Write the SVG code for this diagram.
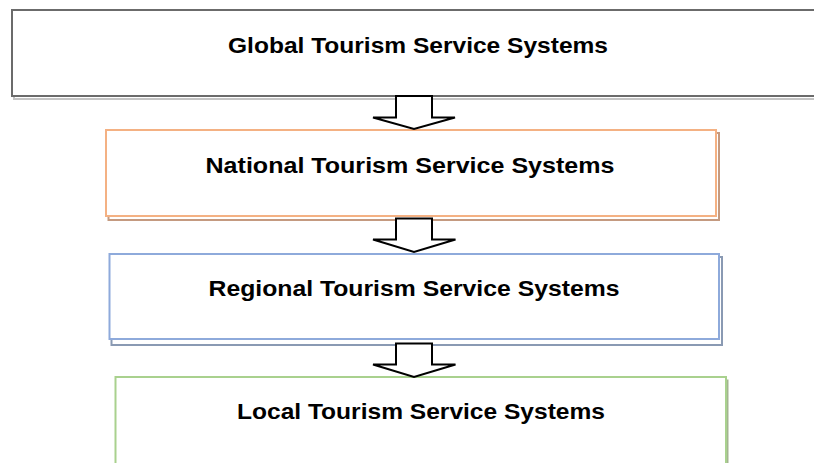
<svg xmlns="http://www.w3.org/2000/svg" width="814" height="463" viewBox="0 0 814 463">
<style>
.t{font-family:"Liberation Sans",Arial,sans-serif;font-weight:bold;font-size:22px;fill:#000;text-anchor:middle}
.arrow{fill:#fff;stroke:#000;stroke-width:2;stroke-linejoin:miter}
</style>
<rect width="814" height="463" fill="#fff"/>
<g id="global">
<rect x="14" y="12" width="810" height="87" fill="none" stroke="#c4c4c4" stroke-width="2"/>
<rect x="12" y="10" width="810" height="86" fill="#fff" stroke="#6b6b6b" stroke-width="2"/>
<text class="t" x="418" y="53" textLength="380" lengthAdjust="spacingAndGlyphs">Global Tourism Service Systems</text>
</g>
<g id="national">
<rect x="108.5" y="133" width="610.5" height="87" fill="none" stroke="#c49a80" stroke-width="2"/>
<rect x="106" y="130" width="610" height="86" fill="#fff" stroke="#f4b183" stroke-width="2"/>
<text class="t" x="410" y="173" textLength="409" lengthAdjust="spacingAndGlyphs">National Tourism Service Systems</text>
</g>
<g id="regional">
<rect x="111.5" y="257" width="610.5" height="88" fill="none" stroke="#8a9ab3" stroke-width="2"/>
<rect x="109.5" y="254" width="609.5" height="85" fill="#fff" stroke="#8eaadb" stroke-width="2"/>
<text class="t" x="414" y="296" textLength="411" lengthAdjust="spacingAndGlyphs">Regional Tourism Service Systems</text>
</g>
<g id="local">
<rect x="117.5" y="380.5" width="610" height="90" fill="none" stroke="#a3b591" stroke-width="2"/>
<rect x="115.5" y="377" width="610.5" height="92" fill="#fff" stroke="#a9d18e" stroke-width="2"/>
<text class="t" x="421" y="419" textLength="368" lengthAdjust="spacingAndGlyphs">Local Tourism Service Systems</text>
</g>
<g id="connectors">
<path class="arrow" d="M396 96 H432 V117.5 H455 L414 129 L373 117.5 H396 Z"/>
<path class="arrow" d="M396 218.5 H432 V239.5 H455.5 L414 252 L373 239.5 H396 Z"/>
<path class="arrow" d="M396 343.5 H432 V364.5 H455.5 L414 377 L373 364.5 H396 Z"/>
</g>
</svg>
